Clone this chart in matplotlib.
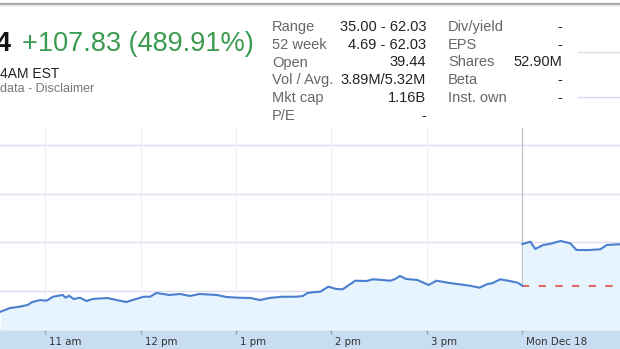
import matplotlib
matplotlib.use("Agg")
import matplotlib.pyplot as plt
import matplotlib.transforms as mtransforms
from matplotlib.patches import Rectangle
import pandas as pd

W, H = 620, 349

# Precio intradía (viernes) y sesión del lunes
TIME_FRI = ["10:32", "10:38", "10:44", "10:49", "10:52", "10:57", "11:01", "11:05", "11:11", "11:13",
            "11:15", "11:18", "11:22", "11:26", "11:30", "11:39", "11:45", "11:51", "11:55", "12:02",
            "12:06", "12:10", "12:18", "12:25", "12:31", "12:37", "12:48", "12:54", "13:01", "13:09",
            "13:15", "13:21", "13:29", "13:38", "13:42", "13:45", "13:48", "13:53", "13:58", "14:03",
            "14:07", "14:15", "14:22", "14:26", "14:32", "14:37", "14:40", "14:43", "14:47", "14:54",
            "15:01", "15:06", "15:13", "15:19", "15:27", "15:33", "15:38", "15:41", "15:46", "15:52",
            "15:57", "16:00"]
PRICE_FRI = [35.73, 36.49, 36.76, 37.11, 37.73, 38.14, 38.00, 38.82, 39.18, 38.62,
             39.03, 38.35, 38.62, 37.94, 38.35, 38.56, 38.14, 37.73, 38.14, 38.82,
             38.82, 39.59, 39.18, 39.38, 38.97, 39.38, 39.18, 38.76, 38.62, 38.56,
             38.14, 38.56, 38.82, 38.82, 38.97, 39.59, 39.73, 39.86, 40.89, 40.41,
             40.35, 42.12, 42.06, 42.41, 42.27, 42.12, 42.47, 43.09, 42.47, 42.27,
             41.24, 42.12, 41.71, 41.44, 41.09, 40.68, 41.44, 41.59, 42.41, 42.06,
             41.71, 41.09]
TIME_MON = ["09:30", "09:35", "09:38", "09:43", "09:47", "09:54", "10:00", "10:04", "10:12", "10:19",
            "10:23", "10:31"]
PRICE_MON = [49.69, 50.16, 48.66, 49.48, 49.69, 50.31, 49.84, 48.45, 48.45, 48.60,
             49.48, 49.63]
PREV_CLOSE = 41.03
PREV_CLOSE_END = "10:27"
GRID_PRICES = [40, 50, 60, 70]
TICK_TIMES = ["11:00", "12:00", "13:00", "14:00", "15:00"]
TICK_LABELS = ["11 am", "12 pm", "1 pm", "2 pm", "3 pm"]
MON_LABEL = "Mon Dec 18"

STATS_LEFT = [("Range", "35.00 - 62.03"), ("52 week", "4.69 - 62.03"), ("Open", "39.44"),
              ("Vol / Avg.", "3.89M/5.32M"), ("Mkt cap", "1.16B"), ("P/E", "-")]
STATS_RIGHT = [("Div/yield", "-"), ("EPS", "-"), ("Shares", "52.90M"), ("Beta", "-"),
               ("Inst. own", "-")]


def sess_min(t, day=0):
    # minutos desde la apertura (9:30); el lunes continúa tras los 390 min del viernes
    tt = pd.to_datetime(t, format="%H:%M")
    return day * 390 + (tt.hour * 60 + tt.minute) - 570


x_fri = [sess_min(t) for t in TIME_FRI]
x_mon = [sess_min(t, 1) for t in TIME_MON]
x_ticks = [sess_min(t) for t in TICK_TIMES]
x_mon_open = sess_min("09:30", 1)


def fx(px):
    return px / W


def fy(py):
    return 1 - py / H


fig = plt.figure(figsize=(W / 100, H / 100), dpi=100)
fig.patch.set_facecolor("white")

# banda del eje x (detrás de todo)
band = Rectangle((0, 0), 1, fy(330), transform=fig.transFigure,
                 facecolor="#c8dcf2", edgecolor="none", zorder=-5)
fig.add_artist(band)

ax = fig.add_axes([0, fy(330), 1, (330 - 128) / H])
ax.set_zorder(2)
ax.patch.set_alpha(0)
ax.set_xlim(61.7, 451.3)
ax.set_ylim(31.96, 73.6)
for s in ax.spines.values():
    s.set_visible(False)
ax.set_yticks([])

for g in GRID_PRICES:
    ax.axhline(g, color="#dcdcf0", lw=1, zorder=1)
for xt in x_ticks:
    ax.axvline(xt, color="#efeff7", lw=1, zorder=1)
ax.axvline(x_mon_open, color="#c4c4c4", lw=1, zorder=1)

y0 = ax.get_ylim()[0]
ax.fill_between(x_fri, PRICE_FRI, y0, color="#e8f4fd", lw=0, zorder=2)
ax.fill_between(x_mon, PRICE_MON, y0, color="#e8f4fd", lw=0, zorder=2)
ax.plot(x_fri, PRICE_FRI, color="#4a7fd0", lw=1.5, zorder=4, solid_joinstyle="round")
ax.plot(x_mon, PRICE_MON, color="#4a7fd0", lw=1.5, zorder=4, solid_joinstyle="round")
ax.plot([x_mon_open, sess_min(PREV_CLOSE_END, 1)], [PREV_CLOSE, PREV_CLOSE],
        color="#e06a60", lw=1.5, dashes=(3.5, 4.5), zorder=3)

ax.set_xticks(x_ticks + [x_mon_open])
ax.set_xticklabels(TICK_LABELS + [MON_LABEL], fontsize=7.4, color="#333333",
                   family="DejaVu Sans")
ax.tick_params(axis="x", direction="out", length=3, width=1, color="#a0a0a0", pad=2.2)
ax.get_xticklines()[-2].set_color("#111111")
offset = mtransforms.ScaledTranslation(4 / 100, 0, fig.dpi_scale_trans)
for lab in ax.get_xticklabels():
    lab.set_ha("left")
    lab.set_transform(lab.get_transform() + offset)

# cabecera
fig.add_artist(plt.Line2D([0, 1], [fy(3.5), fy(3.5)], color="#a8a8a8", lw=1.6))
fig.add_artist(plt.Line2D([0, 1], [fy(5.2), fy(5.2)], color="#e2e2e2", lw=1))
fig.text(fx(11), fy(44), "4", fontsize=19.5, ha="right", va="center", weight="bold",
         family="Liberation Sans", color="#111111")
fig.text(fx(22), fy(44), "+107.83 (489.91%)", fontsize=19.5, ha="left", va="center",
         family="Liberation Sans", color="#3a9a4e")
fig.text(fx(0), fy(73.5), "4AM EST", fontsize=10, ha="left", va="center",
         family="Liberation Sans", color="#222222")
fig.text(fx(0), fy(89), "data - Disclaimer", fontsize=9, ha="left", va="center",
         family="Liberation Sans", color="#777777")

row_y = [27, 45, 62.5, 80, 98, 116]
for (lab, val), ry in zip(STATS_LEFT, row_y):
    fig.text(fx(272), fy(ry), lab, fontsize=10.5, ha="left", va="center",
             family="Liberation Sans", color="#666666")
    fig.text(fx(426), fy(ry), val, fontsize=10.5, ha="right", va="center",
             family="Liberation Sans", color="#222222")
for (lab, val), ry in zip(STATS_RIGHT, row_y):
    fig.text(fx(448), fy(ry), lab, fontsize=10.5, ha="left", va="center",
             family="Liberation Sans", color="#666666")
    fig.text(fx(562), fy(ry), val, fontsize=10.5, ha="right", va="center",
             family="Liberation Sans", color="#222222")

fig.add_artist(plt.Line2D([fx(578), 1], [fy(52), fy(52)], color="#dddddd", lw=1))
fig.add_artist(plt.Line2D([fx(578), 1], [fy(97), fy(97)], color="#d8d8ef", lw=1))

fig.savefig("out.png", dpi=100, facecolor="white")
